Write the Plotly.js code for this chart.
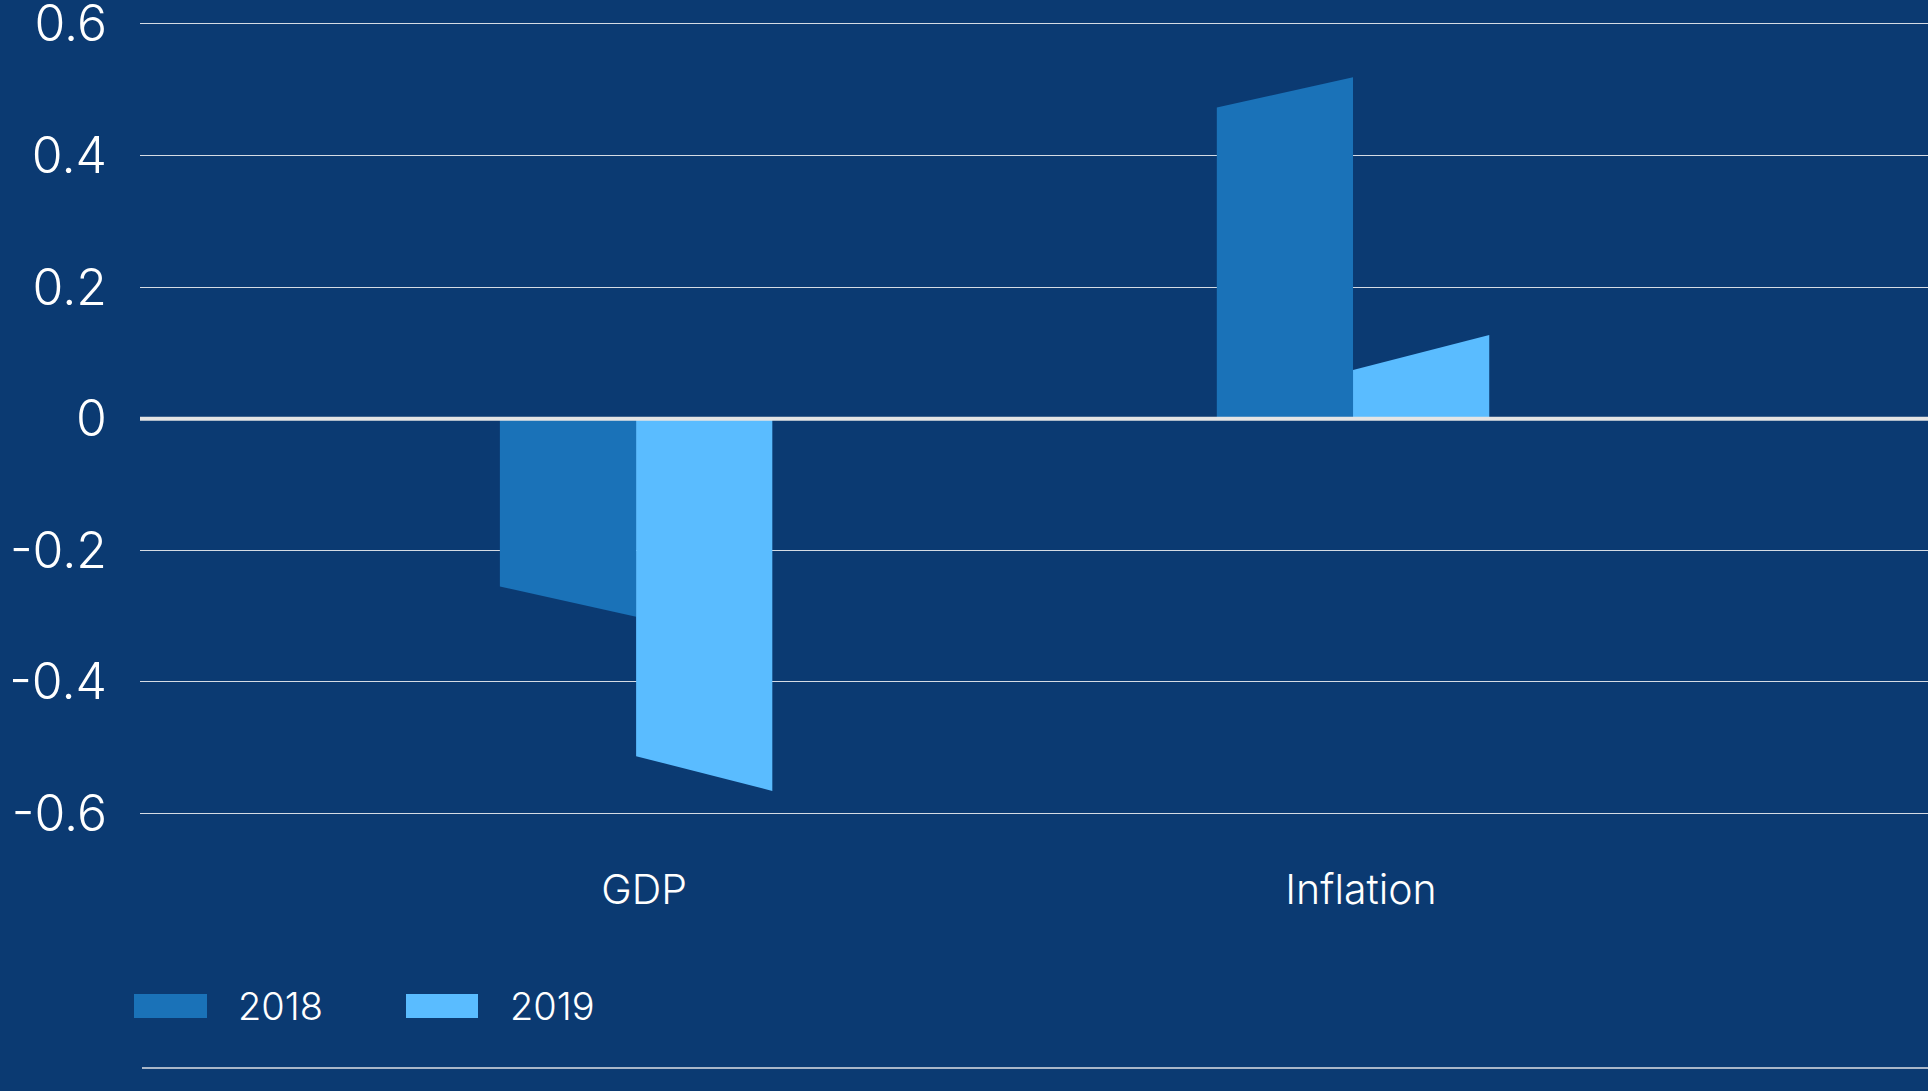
<!DOCTYPE html>
<html>
<head>
<meta charset="utf-8">
<script src="https://cdn.plot.ly/plotly-3.0.1.min.js"></script>
<style>
  html, body { margin: 0; padding: 0; background: #0b3a72; }
  #chart { width: 1928px; height: 1091px; }
</style>
</head>
<body>
<div id="chart"></div>
<script>
// ---- data ----
const categories = ['GDP', 'Inflation'];
const seriesNames = ['2018', '2019'];
// each bar has a slanted end: value at its left edge and at its right edge
const start2018 = [-0.255, 0.473];
const end2018   = [-0.301, 0.519];
const start2019 = [-0.513, 0.074];
const end2019   = [-0.566, 0.127];
const yTickVals = [-0.6, -0.4, -0.2, 0, 0.2, 0.4, 0.6];
const yTickText = ['-0.6', '-0.4', '-0.2', '0', '0.2', '0.4', '0.6'];

// ---- styles ----
const BG = '#0b3a72';
const colors = ['#1a72b8', '#5abcff'];
const W = 1928, H = 1091;
const M = { l: 140, r: 0, t: 20, b: 225 };
const plotW = W - M.l - M.r, plotH = H - M.t - M.b;
const barW = 0.19;
const FONT = 'Inter, Roboto, sans-serif';

const starts = [start2018, start2019];
const ends = [end2018, end2019];

const traces = [];
for (let s = 0; s < seriesNames.length; s++) {
  for (let i = 0; i < categories.length; i++) {
    const x0 = i - barW + s * barW;
    const x1 = x0 + barW;
    traces.push({
      type: 'scatter',
      mode: 'lines',
      x: [x0, x0, x1, x1, x0],
      y: [0, starts[s][i], ends[s][i], 0, 0],
      fill: 'toself',
      fillcolor: colors[s],
      line: { width: 0, color: colors[s] },
      name: seriesNames[s],
      showlegend: false,
      hoverinfo: 'skip'
    });
  }
}

// pixel -> paper helpers for the legend and separator
const px2x = px => (px - M.l) / plotW;
const px2y = py => (H - M.b - py) / plotH;

const shapes = [
  { type: 'line', xref: 'paper', yref: 'y', x0: 0, x1: 1, y0: 0, y1: 0,
    line: { color: '#e4e4e4', width: 4 }, layer: 'above' },
  { type: 'line', xref: 'paper', yref: 'paper', x0: px2x(142), x1: 1, y0: px2y(1068), y1: px2y(1068),
    line: { color: '#a9b6c8', width: 2 }, layer: 'above' }
];
const annotations = [];
const legendX = [[134, 207, 236], [406, 478, 508]];
for (let s = 0; s < seriesNames.length; s++) {
  shapes.push({ type: 'rect', xref: 'paper', yref: 'paper',
    x0: px2x(legendX[s][0]), x1: px2x(legendX[s][1]), y0: px2y(1018), y1: px2y(994),
    fillcolor: colors[s], line: { width: 0 } });
  annotations.push({ xref: 'paper', yref: 'paper', x: px2x(legendX[s][2]), y: px2y(1006),
    xanchor: 'left', yanchor: 'middle', showarrow: false, text: seriesNames[s],
    font: { family: FONT, size: 38, color: '#ffffff', weight: 300 } });
}

const layout = {
  width: W, height: H,
  margin: M,
  paper_bgcolor: BG, plot_bgcolor: BG,
  showlegend: false,
  xaxis: {
    range: [-0.692, 1.802],
    tickvals: categories.map((c, i) => i),
    ticktext: categories,
    showgrid: false, zeroline: false, showline: false, ticks: '',
    tickfont: { family: FONT, size: 41, color: '#ffffff', weight: 300 },
    ticklabelstandoff: -4,
    ticklabelshift: 8,
    fixedrange: true
  },
  yaxis: {
    range: [-0.68, 0.606],
    tickvals: yTickVals, ticktext: yTickText,
    showgrid: true, gridcolor: '#d5dbe4', gridwidth: 1,
    zeroline: false, showline: false, ticks: '',
    tickfont: { family: FONT, size: 50, color: '#ffffff', weight: 300 },
    ticklabelstandoff: 32,
    ticklabeloverflow: 'allow',
    fixedrange: true
  },
  shapes: shapes,
  annotations: annotations
};

Plotly.newPlot('chart', traces, layout, { staticPlot: true, displayModeBar: false });
</script>
</body>
</html>
